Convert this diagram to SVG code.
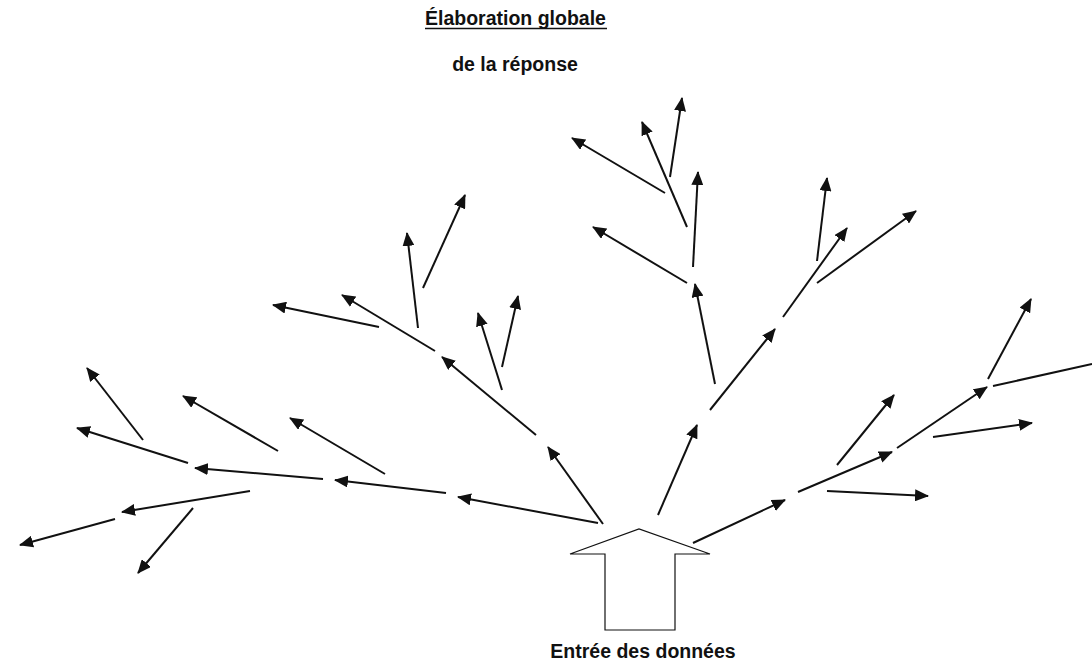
<svg xmlns="http://www.w3.org/2000/svg" width="1092" height="662" viewBox="0 0 1092 662">
<style>
.t{font-family:"Liberation Sans",Arial,sans-serif;font-weight:bold;font-size:19.5px;fill:#111}
.a{stroke:#111;stroke-width:2;fill:none;marker-end:url(#h)}
.n{stroke:#111;stroke-width:2;fill:none}
</style>
<defs>
<marker id="h" markerUnits="userSpaceOnUse" markerWidth="14" markerHeight="12" refX="13" refY="6" orient="auto">
<path d="M0,0 L14,6 L0,12 z" fill="#111"/>
</marker>
</defs>
<rect width="1092" height="662" fill="#fff"/>
<g id="title">
<text class="t" x="425" y="25">Élaboration globale</text>
<line x1="425" y1="28.5" x2="607" y2="28.5" stroke="#111" stroke-width="1.6"/>
<text class="t" x="515" y="71" text-anchor="middle">de la réponse</text>
</g>
<g id="input">
<polygon points="570,554 639,529 710,554 675,554 675,630 605,630 605,554" fill="#fff" stroke="#111" stroke-width="1.2"/>
<text class="t" x="643" y="658" text-anchor="middle">Entrée des données</text>
</g>
<g id="connectors">
<line class="a" x1="143" y1="440" x2="87" y2="368"/>
<line class="a" x1="188" y1="463" x2="77" y2="428"/>
<line class="a" x1="278" y1="451" x2="183" y2="396"/>
<line class="a" x1="385" y1="474" x2="290" y2="418"/>
<line class="a" x1="323" y1="479" x2="195" y2="468"/>
<line class="a" x1="446" y1="493" x2="335" y2="480"/>
<line class="a" x1="250" y1="491" x2="122" y2="512"/>
<line class="a" x1="115" y1="519" x2="20" y2="545"/>
<line class="a" x1="193" y1="508" x2="138" y2="573"/>
<line class="a" x1="598" y1="523" x2="458" y2="497"/>
<line class="a" x1="603" y1="524" x2="548" y2="447"/>
<line class="a" x1="536" y1="435" x2="442" y2="357"/>
<line class="a" x1="502" y1="390" x2="478" y2="313"/>
<line class="a" x1="502" y1="367" x2="518" y2="296"/>
<line class="a" x1="435" y1="351" x2="342" y2="295"/>
<line class="a" x1="379" y1="327" x2="273" y2="305"/>
<line class="a" x1="418" y1="328" x2="407" y2="233"/>
<line class="a" x1="423" y1="288" x2="465" y2="195"/>
<line class="a" x1="658" y1="515" x2="697" y2="425"/>
<line class="a" x1="710" y1="410" x2="775" y2="329"/>
<line class="a" x1="715" y1="384" x2="695" y2="284"/>
<line class="a" x1="687" y1="283" x2="593" y2="227"/>
<line class="a" x1="693" y1="267" x2="698" y2="172"/>
<line class="a" x1="687" y1="227" x2="642" y2="122"/>
<line class="a" x1="665" y1="193" x2="572" y2="138"/>
<line class="a" x1="670" y1="177" x2="682" y2="98"/>
<line class="a" x1="783" y1="317" x2="847" y2="228"/>
<line class="a" x1="817" y1="261" x2="827" y2="178"/>
<line class="a" x1="817" y1="283" x2="916" y2="211"/>
<line class="a" x1="693" y1="543" x2="785" y2="500"/>
<line class="a" x1="798" y1="492" x2="892" y2="452"/>
<line class="a" x1="837" y1="465" x2="894" y2="395"/>
<line class="a" x1="827" y1="491" x2="928" y2="496"/>
<line class="a" x1="897" y1="448" x2="987" y2="387"/>
<line class="a" x1="933" y1="437" x2="1032" y2="423"/>
<line class="a" x1="988" y1="379" x2="1031" y2="299"/>
<line class="n" x1="993" y1="386" x2="1092" y2="364"/>
</g>
</svg>
